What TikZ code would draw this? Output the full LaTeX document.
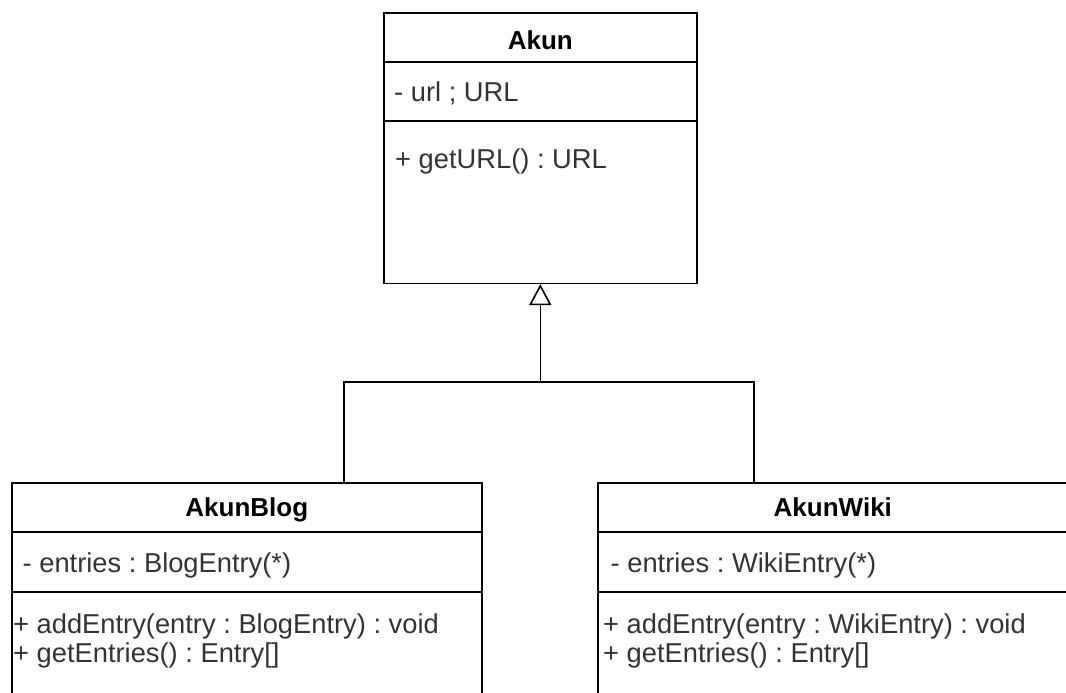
\documentclass[tikz,border=0pt]{standalone}
\usepackage{fontspec}
\setmainfont{Liberation Sans}
\usetikzlibrary{arrows.meta}
\frenchspacing

\tikzset{
  classbox/.style={draw, line width=1.6pt, inner sep=0pt, anchor=north west},
  rule/.style={line width=1.6pt},
  classname/.style={font=\fontsize{26}{31}\selectfont\bfseries, inner sep=0pt, anchor=base},
  member/.style={font=\fontsize{27.3}{32}\selectfont, text=black!80, inner sep=0pt, anchor=base west},
  link/.style={line width=1.6pt},
}

\begin{document}
\begin{tikzpicture}[x=1pt,y=-1pt]
  \useasboundingbox (0,0) rectangle (1066,693);
  \clip (0,0) rectangle (1066,693);

  % class boxes
  \node[classbox, minimum width=313pt, minimum height=270.5pt] (akun) at (383,12) {};
  \node[classbox, minimum width=470pt, minimum height=260pt] (blog) at (11,482) {};
  \node[classbox, minimum width=470pt, minimum height=260pt] (wiki) at (597,482) {};

  % compartments
  \foreach \y in {62,121}
    \draw[rule] (akun.west |- 0,\y) -- (akun.east |- 0,\y);
  \foreach \y in {532,592} {
    \draw[rule] (blog.west |- 0,\y) -- (blog.east |- 0,\y);
    \draw[rule] (wiki.west |- 0,\y) -- (wiki.east |- 0,\y);
  }

  % Akun
  \node[classname] (akunname) at (akun.north |- 0,50) {Akun};
  \node[member] (akunurl) at (394,102) {- url ; URL};
  \node[member] (akungeturl) at (395,168) {+ getURL() : URL};

  % AkunBlog
  \node[classname] (blogname) at (blog.north |- 0,516) {AkunBlog};
  \node[member] (blogentries) at (22.5,572) {- entries : BlogEntry(*)};
  \node[member] (blogadd) at (13,633) {+ addEntry(entry : BlogEntry) : void};
  \node[member] (blogget) at (13,662) {+ getEntries() : Entry[]};

  % AkunWiki
  \node[classname] (wikiname) at (wiki.north |- 0,516) {AkunWiki};
  \node[member] (wikientries) at (610.5,572) {- entries : WikiEntry(*)};
  \node[member] (wikiadd) at (603,633) {+ addEntry(entry : WikiEntry) : void};
  \node[member] (wikiget) at (603,662) {+ getEntries() : Entry[]};

  % generalisation
  \coordinate (blogjoin) at (344,382);
  \coordinate (wikijoin) at (754,382);
  \draw[link] (blog.north -| blogjoin) -- (blogjoin) -- (wikijoin) -- (wiki.north -| wikijoin);
  \draw[link, -{Triangle[open, length=21pt, width=22pt]}] (akun.south |- blogjoin) -- (akun.south);
\end{tikzpicture}
\end{document}
